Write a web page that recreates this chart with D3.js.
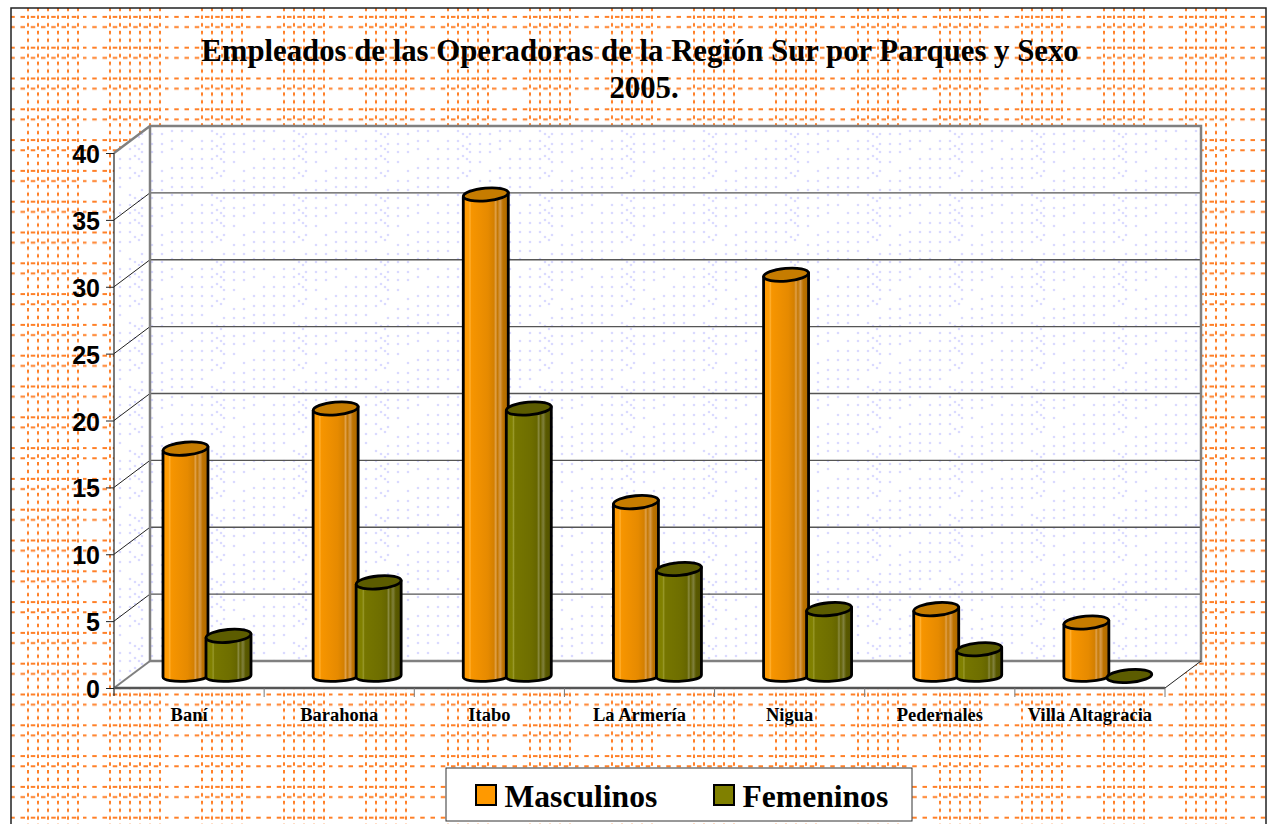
<!DOCTYPE html>
<html>
<head>
<meta charset="utf-8">
<script src="https://cdn.jsdelivr.net/npm/d3@7"></script>
<style>
html, body { margin: 0; padding: 0; background: #fff; overflow: hidden; }
svg { display: block; }
</style>
</head>
<body>
<div id="chart"></div>
<script>
var parques = ["Baní", "Barahona", "Itabo", "La Armería", "Nigua", "Pedernales", "Villa Altagracia"];
var series = ["Masculinos", "Femeninos"];
var masculinos = [17, 20, 36, 13, 30, 5, 4];
var femeninos = [3, 7, 20, 8, 5, 2, 0];
var yTicks = [0, 5, 10, 15, 20, 25, 30, 35, 40];
var titulo = ["Empleados de las Operadoras de la Región Sur por Parques y Sexo", "2005."];

var W = 1268, H = 824;
var depthX = 36, depthY = -27; // 3d offset front -> back wall
var liftBar = 12; // bars stand a little behind the front edge
var barW = 45, ry = 6.4, tilt = 2;

var x = d3.scaleBand().domain(parques).range([114, 1165]);
var y = d3.scaleLinear().domain([0, 40]).range([688, 153]);
var inner = d3.scaleBand().domain(series).range([49, 135]);

var svg = d3.select("#chart").append("svg").attr("width", W).attr("height", H);
var defs = svg.append("defs");

// orange dashed background tile
var bgColor = "#ff8028";
var bg = defs.append("pattern").attr("id", "fondo")
    .attr("patternUnits", "userSpaceOnUse")
    .attr("width", 82).attr("height", 30.8);
[17, 27].forEach(function (p) {
    bg.append("line").attr("x1", 0).attr("x2", 82).attr("y1", p).attr("y2", p)
        .attr("stroke", bgColor).attr("stroke-width", 2)
        .attr("stroke-dasharray", "4.5 5.75");
});
[38, 48, 58, 68, 78].forEach(function (p) {
    bg.append("line").attr("x1", p).attr("x2", p).attr("y1", 0).attr("y2", 30.8)
        .attr("stroke", bgColor).attr("stroke-width", 2)
        .attr("stroke-dasharray", "3.5 4.2");
});
// left of x=190 the groups have one more column
var bgExtra = defs.append("pattern").attr("id", "fondoExtra")
    .attr("patternUnits", "userSpaceOnUse")
    .attr("width", 82).attr("height", 30.8);
bgExtra.append("line").attr("x1", 28).attr("x2", 28).attr("y1", 0).attr("y2", 30.8)
    .attr("stroke", bgColor).attr("stroke-width", 2)
    .attr("stroke-dasharray", "3.5 4.2");

// lavender dots of the walls
var dotColor = "#dadaff";
var dots = defs.append("pattern").attr("id", "puntos")
    .attr("patternUnits", "userSpaceOnUse")
    .attr("width", 82).attr("height", 64)
    .attr("x", 6);
[2, 12, 22, 32, 42, 54, 64, 74].forEach(function (cx, i) {
    [3, 13, 21, 31, 40, 50, 59].forEach(function (cy, j) {
        if ((i + j) % 7 === 3) return;
        dots.append("circle").attr("cx", cx).attr("cy", cy + (i > 4 ? 3 : 0))
            .attr("r", 1.3).attr("fill", dotColor);
    });
});
[47, 51].forEach(function (cx, i) {
    [6, 18, 28, 45].forEach(function (cy) {
        dots.append("circle").attr("cx", cx).attr("cy", cy + i * 3)
            .attr("r", 1.3).attr("fill", dotColor);
    });
});

// bar shading
function gradient(id, stops) {
    var g = defs.append("linearGradient").attr("id", id);
    stops.forEach(function (s) {
        g.append("stop").attr("offset", s[0]).attr("stop-color", s[1]);
    });
}
gradient("gradM", [[0, "#ff9900"], [0.12, "#ff9c05"], [0.15, "#ffb030"], [0.18, "#f79500"],
    [0.55, "#e68a00"], [0.68, "#d48000"], [0.72, "#e0a04a"], [0.76, "#c67800"],
    [0.82, "#d69a4a"], [0.88, "#bd7200"], [1, "#ad6900"]]);
gradient("gradF", [[0, "#7e7e00"], [0.13, "#808000"], [0.16, "#98982a"], [0.19, "#767600"],
    [0.55, "#6e6e00"], [0.68, "#666600"], [0.72, "#8a8a40"], [0.76, "#606000"],
    [0.82, "#80803c"], [0.88, "#5a5a00"], [1, "#525200"]]);

var colors = { Masculinos: "#ff9900", Femeninos: "#808000" };
var tops = { Masculinos: "#c67c00", Femeninos: "#5c5c00" };
var grads = { Masculinos: "url(#gradM)", Femeninos: "url(#gradF)" };

// page background and frame
svg.append("rect").attr("x", 11).attr("y", 8).attr("width", 1255).attr("height", 820)
    .attr("fill", "#fff");
svg.append("rect").attr("x", 11).attr("y", 8).attr("width", 1255).attr("height", 820)
    .attr("fill", "url(#fondo)");
svg.append("rect").attr("x", 11).attr("y", 8).attr("width", 179).attr("height", 820)
    .attr("fill", "url(#fondoExtra)");
svg.append("rect").attr("x", 11).attr("y", 8).attr("width", 1255).attr("height", 820)
    .attr("fill", "none").attr("stroke", "#222").attr("stroke-width", 1.5);

// walls and floor
var x0 = x.range()[0], x1 = x.range()[1];
var y0 = y(0), yTop = y(40);
var poly = function (pts) { return pts.map(function (p) { return p.join(","); }).join(" "); };

var backWall = poly([[x0 + depthX, yTop + depthY], [x1 + depthX, yTop + depthY], [x1 + depthX, y0 + depthY], [x0 + depthX, y0 + depthY]]);
var sideWall = poly([[x0, yTop], [x0 + depthX, yTop + depthY], [x0 + depthX, y0 + depthY], [x0, y0]]);
[backWall, sideWall].forEach(function (pts) {
    svg.append("polygon").attr("points", pts).attr("fill", "#fff");
    svg.append("polygon").attr("points", pts).attr("fill", "url(#puntos)");
});
svg.append("polygon")
    .attr("points", poly([[x0, y0], [x0 + depthX, y0 + depthY], [x1 + depthX, y0 + depthY], [x1, y0]]))
    .attr("fill", "#fff");

// gridlines on back and side walls
var grid = svg.append("g");
grid.selectAll(".gridBack").data(yTicks.slice(1, -1)).enter().append("line")
    .attr("x1", x0 + depthX).attr("x2", x1 + depthX)
    .attr("y1", function (d) { return y(d) + depthY; })
    .attr("y2", function (d) { return y(d) + depthY; })
    .attr("stroke", "#555").attr("stroke-width", 1.3);
grid.selectAll(".gridSide").data(yTicks.slice(1, -1)).enter().append("line")
    .attr("x1", x0).attr("x2", x0 + depthX)
    .attr("y1", function (d) { return y(d); })
    .attr("y2", function (d) { return y(d) + depthY; })
    .attr("stroke", "#222").attr("stroke-width", 1);

// wall borders
svg.append("polyline")
    .attr("points", poly([[x0, yTop], [x0 + depthX, yTop + depthY], [x1 + depthX, yTop + depthY], [x1 + depthX, y0 + depthY], [x0 + depthX, y0 + depthY], [x0 + depthX, yTop + depthY]]))
    .attr("fill", "none").attr("stroke", "#808080").attr("stroke-width", 2.5);
svg.append("line").attr("x1", x0).attr("y1", y0).attr("x2", x0 + depthX).attr("y2", y0 + depthY)
    .attr("stroke", "#808080").attr("stroke-width", 2);
svg.append("line").attr("x1", x1).attr("y1", y0).attr("x2", x1 + depthX).attr("y2", y0 + depthY)
    .attr("stroke", "#222").attr("stroke-width", 1);

// cylinders, tilted slightly like the original
function cylinder(cx, top, bottom, rx) {
    var p = d3.path();
    var c = ry * 1.1;
    p.moveTo(cx - rx, top + tilt);
    p.lineTo(cx - rx, bottom + 1);
    p.bezierCurveTo(cx - rx, bottom + c + 1, cx + rx, bottom + c - 1, cx + rx, bottom - 1);
    p.lineTo(cx + rx, top - tilt);
    p.lineTo(cx - rx, top + tilt);
    p.closePath();
    return p.toString();
}

parques.forEach(function (parque, i) {
    var row = [{ s: "Masculinos", v: masculinos[i] }, { s: "Femeninos", v: femeninos[i] }];
    var g = svg.append("g").attr("transform", "translate(" + x(parque) + ",0)");
    var bars = g.selectAll("g.bar").data(row).enter().append("g").attr("class", "bar")
        .attr("transform", function (d) { return "translate(" + (inner(d.s) + barW / 2) + ",0)"; });

    bars.filter(function (d) { return d.v > 0; }).append("path")
        .attr("d", function (d) { return cylinder(0, y(d.v) - liftBar, y(0) - liftBar, barW / 2); })
        .attr("fill", function (d) { return grads[d.s]; })
        .attr("stroke", "#000").attr("stroke-width", 2.8).attr("stroke-linejoin", "round");

    bars.append("ellipse")
        .attr("cx", 0)
        .attr("cy", 0)
        .attr("transform", function (d) { return "translate(0," + (y(d.v) - liftBar) + ") rotate(-5)"; })
        .attr("rx", barW / 2).attr("ry", ry)
        .attr("fill", function (d) { return tops[d.s]; })
        .attr("stroke", "#000").attr("stroke-width", 2.8);
});

// front axes
var yAxis = d3.axisLeft(y).tickValues(yTicks).tickSize(8).tickPadding(6);
var gy = svg.append("g").attr("transform", "translate(" + x0 + ",0)").call(yAxis);
gy.select("path").attr("d", "M0," + yTop + "V" + (y0 + 8)).attr("stroke", "#222").attr("stroke-width", 1.2);
gy.selectAll("line").attr("stroke", "#222").attr("stroke-width", 1);
gy.selectAll("text")
    .attr("dy", "0.38em")
    .attr("font-family", "'Liberation Sans', Arial, sans-serif")
    .attr("font-weight", "bold").attr("font-size", 25).attr("fill", "#000");

var xAxis = d3.axisBottom(x).tickSize(0).tickPadding(20);
var gx = svg.append("g").attr("transform", "translate(0," + y0 + ")").call(xAxis);
gx.select("path").attr("d", "M" + x0 + ",0H" + x1).attr("stroke", "#555").attr("stroke-width", 2.5);
gx.selectAll("text")
    .attr("font-family", "'Liberation Serif', 'Times New Roman', serif")
    .attr("font-weight", "bold").attr("font-size", 18.5).attr("fill", "#000");
gx.selectAll(".sep").data(parques).enter().append("line").attr("class", "sep")
    .attr("x1", function (d) { return x(d) + x.bandwidth(); })
    .attr("x2", function (d) { return x(d) + x.bandwidth(); })
    .attr("y1", 0).attr("y2", 9)
    .attr("stroke", "#777").attr("stroke-width", 1);

// title
svg.selectAll(".titulo").data(titulo).enter().append("text").attr("class", "titulo")
    .attr("x", function (d, i) { return i === 0 ? 640 : 644; })
    .attr("y", function (d, i) { return 61 + i * 37; })
    .attr("text-anchor", "middle")
    .attr("font-family", "'Liberation Serif', 'Times New Roman', serif")
    .attr("font-weight", "bold").attr("font-size", 30.75).attr("fill", "#000")
    .text(function (d) { return d; });

// legend
var legend = svg.append("g");
legend.append("rect").attr("x", 446).attr("y", 768).attr("width", 466).attr("height", 53)
    .attr("fill", "#fff").attr("stroke", "#333").attr("stroke-width", 1);
var legX = d3.scaleOrdinal().domain(series).range([476, 714]);
series.forEach(function (s) {
    legend.append("rect").attr("x", legX(s)).attr("y", 785).attr("width", 20).attr("height", 20)
        .attr("fill", colors[s]).attr("stroke", "#000").attr("stroke-width", 2);
    legend.append("text").attr("x", legX(s) + 28.5).attr("y", 807)
        .attr("font-family", "'Liberation Serif', 'Times New Roman', serif")
        .attr("font-weight", "bold").attr("font-size", 31.6).attr("fill", "#000")
        .text(s);
});
</script>
</body>
</html>
